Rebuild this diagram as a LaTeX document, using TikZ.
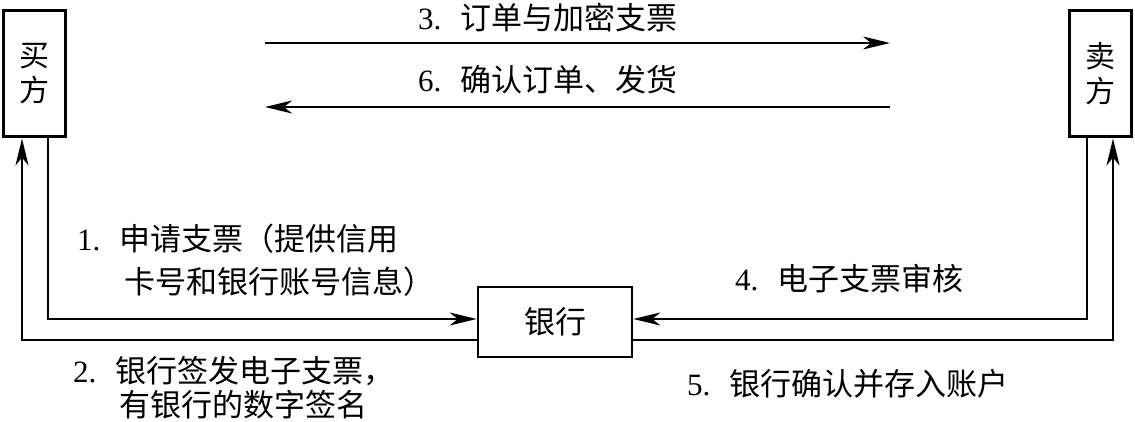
\documentclass[tikz,border=0pt]{standalone}
\usepackage{fontspec}
\setmainfont{Liberation Serif}
\newfontfamily\cjk{Noto Sans CJK SC}
\usetikzlibrary{arrows.meta, positioning, calc}
\newcommand{\zh}[1]{{\cjk #1}}
\newcommand{\stepno}[1]{#1.\hspace{19pt}}

\begin{document}
\begin{tikzpicture}[x=1pt, y=-1pt,
    party/.style={draw, line width=3pt, minimum width=62pt, minimum height=126pt,
        inner sep=0pt, align=center, font=\fontsize{30}{35}\selectfont\cjk},
    bankbox/.style={draw, line width=2.6pt, minimum width=154pt, minimum height=70pt,
        inner sep=0pt, font=\fontsize{31}{36}\selectfont\cjk},
    lbl/.style={anchor=west, inner sep=0pt, font=\fontsize{31}{36}\selectfont},
    flow/.style={line width=2pt, -{Stealth[length=27pt, width=13pt, inset=8pt]}},
]
    \useasboundingbox (0,0) rectangle (1135,422);

    % Parties
    \node[party] (buyer) at (34.5, 74) {买\\方};
    \node[party] (seller) at (1100, 74) {卖\\方};
    \node[bankbox] (bank) at (555, 322) {银行};

    % Order and delivery between buyer and seller
    \coordinate (ordS) at (265, 43);
    \coordinate (ordE) at (890, 43);
    \coordinate (shipS) at (890, 107);
    \coordinate (shipE) at (265, 107);
    \draw[flow] (ordS) -- (ordE);
    \draw[flow] (shipS) -- (shipE);
    \node[lbl] (lab3) at (418, 18) {\stepno{3}\zh{订单与加密支票}};
    \node[lbl] (lab6) at (418, 80) {\stepno{6}\zh{确认订单、发货}};

    % Buyer <-> bank
    \draw[flow] ([xshift=13.5pt]buyer.south) |- ([yshift=3pt]bank.west);
    \draw[flow] ([yshift=-18pt]bank.west) -| ([xshift=-12.5pt]buyer.south);
    \node[lbl] (lab1a) at (77, 239) {\stepno{1}\zh{申请支票（提供信用}};
    \node[lbl] (lab1b) at (124, 282) {\zh{卡号和银行账号信息）}};
    \node[lbl] (lab2a) at (73, 371) {\stepno{2}\zh{银行签发电子支票，}};
    \node[lbl] (lab2b) at (119, 405) {\zh{有银行的数字签名}};

    % Seller <-> bank
    \draw[flow] ([xshift=-13pt]seller.south) |- ([yshift=3pt]bank.east);
    \draw[flow] ([yshift=-18pt]bank.east) -| ([xshift=13pt]seller.south);
    \node[lbl] (lab4) at (735, 279) {\stepno{4}\zh{电子支票审核}};
    \node[lbl] (lab5) at (687, 384) {\stepno{5}\zh{银行确认并存入账户}};

\end{tikzpicture}
\end{document}
